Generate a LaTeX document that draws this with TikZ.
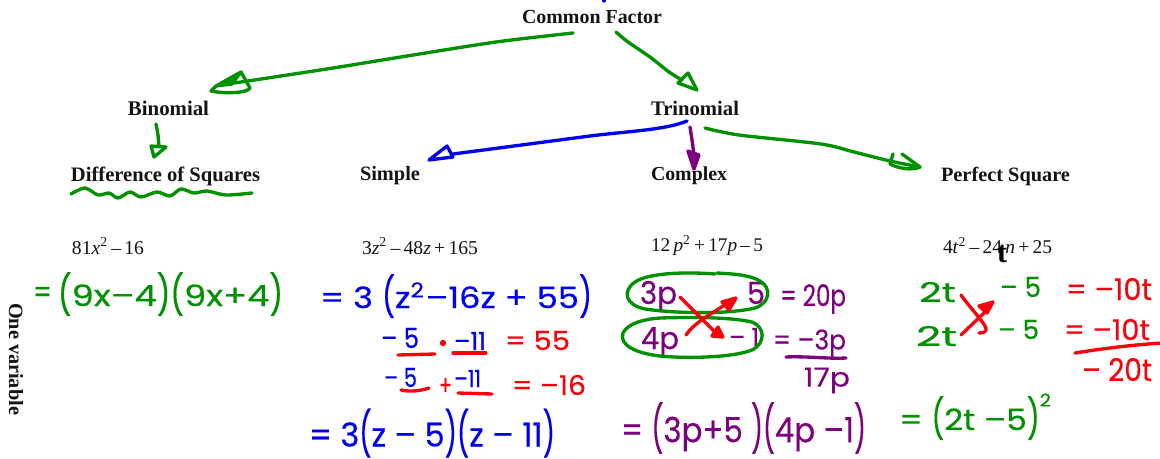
\documentclass[tikz,border=0pt]{standalone}
\usepackage{graphicx}
\usepackage{fontspec}
\setmainfont{Liberation Serif}
\newfontfamily\handfont[FakeBold=0.4]{Poppins}
\definecolor{ing}{RGB}{0,145,0}
\definecolor{inb}{RGB}{0,0,240}
\definecolor{inr}{RGB}{250,0,10}
\definecolor{inp}{RGB}{125,0,125}
\newlength\inkW \newlength\inkH
% hand-written ink: name, x0,y0,x1,y1, colour, text
\newcommand\ink[7]{%
  \pgfmathsetlength\inkW{(#4-#2)*0.75pt}\pgfmathsetlength\inkH{(#5-#3)*0.75pt}%
  \pgfmathsetmacro\inkX{(#2+#4)/2}\pgfmathsetmacro\inkY{(#3+#5)/2}%
  \node[fitbox,text=#6] (#1) at (\inkX,\inkY) {\resizebox{\inkW}{\inkH}{\handfont #7}};}
% printed text: name, x0,x1,yc, text
\newcommand\prn[5]{%
  \pgfmathsetlength\inkW{(#3-#2)*0.75pt}\pgfmathsetmacro\inkX{(#2+#3)/2}%
  \node[fitbox,text=black!92] (#1) at (\inkX,#4) {\resizebox{\inkW}{!}{#5}};}
\newcommand\LP{\raisebox{-.087em}{\scalebox{.85}[1.33]{(}}}
\newcommand\RP{\raisebox{-.087em}{\scalebox{.85}[1.33]{)}}}
\tikzset{
  fitbox/.style={inner sep=0pt,outer sep=0pt},
  pen/.style={line width=2.5pt,line cap=round,line join=round},
  gpen/.style={pen,draw=ing},
  bpen/.style={pen,draw=inb},
  rpen/.style={pen,draw=inr},
  ppen/.style={pen,draw=inp},
}
\begin{document}
\begin{tikzpicture}[x=0.75pt,y=-0.75pt]
\useasboundingbox (0,0) rectangle (1160,458);
\clip (0,0) rectangle (1160,458);
% printed headings
\prn{common}{522}{662}{17}{\textbf{Common Factor}}
\prn{binom}{128}{209}{108}{\textbf{Binomial}}
\prn{trinom}{651}{739}{108}{\textbf{Trinomial}}
\prn{dos}{71}{260}{176}{\textbf{Difference of Squares}}
\prn{simple}{360}{420}{176}{\textbf{Simple}}
\prn{complex}{651}{727}{176}{\textbf{Complex}}
\prn{perfect}{941}{1070}{176}{\textbf{Perfect Square}}
% printed expressions
\prn{ea}{72}{144}{246}{81\textit{x}\textsuperscript{2}\,–\,16}
\prn{eb}{362}{478}{246}{3\textit{z}\textsuperscript{2}\,–\,48\textit{z}\,+\,165}
\prn{ec}{651}{763}{246}{12\,\textit{p}\textsuperscript{2}\,+\,17\textit{p}\,–\,5}
\prn{ed}{943}{1052}{246}{4\textit{t}\textsuperscript{2}\,–\,24\,\textit{n}\,+\,25}
\node[fitbox,rotate=-90,text=black!92] (onevar) at (16,359) {\resizebox{84pt}{!}{\textbf{One variable}}};
\node[fitbox,text=black] (tfix) at (1002,254) {\resizebox{7.5pt}{13pt}{\textbf{t}}};
% connectors
\coordinate (cfA) at (573,33); \coordinate (binTip) at (218,85);
\coordinate (cfB) at (616,32); \coordinate (triTip) at (697,90);
\coordinate (binS) at (156,124); \coordinate (dosTip) at (159,147);
\coordinate (triA) at (687,121); \coordinate (simTip) at (429,160);
\coordinate (triB) at (690,127); \coordinate (cplxTip) at (694,169);
\coordinate (triC) at (705,128); \coordinate (perfTip) at (920,167);
\draw[gpen] plot[smooth] coordinates {(cfA) (496,42) (407,56) (333,68) (241,82) (binTip)};
\draw[gpen,fill=ing] (241,72) -- (216,86) -- (232,84) -- cycle;
\draw[gpen] (241,72) -- (250,88) .. controls (248,93) and (225,94) .. (211,91) -- (216,86);
\draw[gpen] plot[smooth] coordinates {(cfB) (628,42) (650,57) (669,72) (682,80)};
\draw[gpen] (688,73) -- (678,83) -- (triTip) -- cycle;
\draw[gpen] plot[smooth] coordinates {(binS) (158,135) (dosTip)};
\draw[gpen] (151,146) -- (154,157) -- (166,147) -- cycle;
\draw[gpen] plot[smooth] coordinates {(71,194) (85,188) (98,195) (109,193) (118,198) (130,192) (141,197) (157,192) (170,196) (181,189) (194,193) (207,191) (226,195) (252,193)};
\draw[bpen] (triA) .. controls (665,130) and (630,131) .. (590,136) -- (453,154);
\draw[bpen] (simTip) -- (447,146) -- (453,157) -- cycle;
\draw[ppen] plot[smooth] coordinates {(triB) (692,140) (694,155)};
\draw[ppen,fill=inp] (688,151) -- (cplxTip) -- (699,155) -- cycle;
\draw[gpen] plot[smooth] coordinates {(triC) (739,135) (821,144) (854,152) (890,161) (perfTip)};
\draw[gpen] (893,154) -- (890,164) .. controls (897,168) and (912,171) .. (perfTip) -- (902,154);
\draw[bpen] (604,-2) -- (604,1);
% green item 1
\ink{ga}{33}{287}{52}{303}{ing}{=}
\ink{gb}{58}{277}{283}{311}{ing}{\LP 9x–4\RP\LP 9x+4\RP}
% blue item 2
\ink{ba}{320}{279}{592}{313}{inb}{= 3 \LP z\textsuperscript{2}–16z + 55\RP}
\ink{bb}{381}{328}{419}{348}{inb}{– 5}
\ink{bc}{454}{332}{486}{350}{inb}{–11}
\ink{rb}{505}{331}{570}{350}{inr}{= 55}
\ink{bd}{384}{368}{417}{387}{inb}{– 5}
\ink{be}{454}{370}{481}{387}{inb}{–11}
\ink{rc}{439}{378}{452}{395}{inr}{+}
\ink{rd}{512}{375}{586}{395}{inr}{= –16}
\ink{bf}{309}{414}{555}{452}{inb}{= 3\LP z – 5\RP\LP z – 11\RP}
\coordinate (ua) at (398,355); \coordinate (ub) at (435,354);
\draw[rpen] (ua) -- (ub);
\coordinate (uc) at (453,353); \coordinate (ud) at (486,353);
\draw[rpen] (uc) -- (ud);
\coordinate (ue) at (401,390); \coordinate (uf) at (429,388);
\draw[rpen] (ue) .. controls (410,392) and (420,391) .. (uf);
\coordinate (ug) at (458,393); \coordinate (uh) at (492,394);
\draw[rpen] (ug) -- (uh);
\fill[inr] (443,343) circle (3.2);
% purple item 3
\ink{pa}{640}{285}{677}{308}{inp}{3p}
\ink{pb}{747}{282}{765}{304}{inp}{5}
\ink{pc}{780}{288}{846}{310}{inp}{= 20p}
\ink{pd}{641}{331}{679}{353}{inp}{4p}
\ink{pe}{729}{328}{759}{346}{inp}{– 1}
\ink{pf}{773}{333}{846}{353}{inp}{= –3p}
\ink{pg}{804}{371}{850}{390}{inp}{17p}
\ink{ph}{621}{408}{866}{448}{inp}{= \LP 3p+5 \RP\LP 4p –1\RP}
\coordinate (ra) at (786,357); \coordinate (rb) at (846,358);
\draw[ppen] (ra) .. controls (805,356) and (830,359) .. (rb);
\draw[gpen] (715,274) .. controls (690,272) and (650,272) .. (635,282) .. controls (622,291) and (625,305) .. (645,309) .. controls (680,314) and (730,314) .. (755,308) .. controls (770,303) and (772,288) .. (760,281) .. controls (750,275) and (735,274) .. (717,273);
\draw[gpen] (660,318) .. controls (645,319) and (628,323) .. (623,333) .. controls (619,345) and (635,353) .. (660,356) .. controls (690,359) and (735,357) .. (752,350) .. controls (766,343) and (765,327) .. (752,322) .. controls (730,317) and (690,317) .. (660,318);
\coordinate (xa) at (680,297); \coordinate (xb) at (723,337);
\coordinate (xc) at (686,335); \coordinate (xd) at (736,298);
\draw[rpen] (xa) -- (715,332);
\draw[rpen,fill=inr] (xb) -- (712,336) -- (718,327) -- cycle;
\draw[rpen] (xc) .. controls (695,322) and (710,315) .. (726,304);
\draw[rpen,fill=inr] (xd) -- (722,302) -- (729,310) -- cycle;
% green item 4
\ink{qa}{919}{282}{956}{302}{ing}{2t}
\ink{qb}{1000}{277}{1041}{297}{ing}{– 5}
\ink{qc}{916}{326}{957}{346}{ing}{2t}
\ink{qd}{998}{320}{1039}{339}{ing}{– 5}
\ink{qe}{899}{401}{1051}{435}{ing}{= \LP 2t –5\RP\smash{\raisebox{.8em}{\scalebox{.6}{2}}}}
\ink{rf}{1066}{278}{1152}{300}{inr}{= –10t}
\ink{rh}{1064}{319}{1150}{340}{inr}{= –10t}
\ink{rg}{1082}{358}{1152}{381}{inr}{– 20t}
\coordinate (sa) at (1075,353); \coordinate (sb) at (1162,343);
\draw[rpen] (sa) .. controls (1100,349) and (1130,345) .. (sb);
\coordinate (ya) at (961,295); \coordinate (yb) at (979,333);
\coordinate (yc) at (961,335); \coordinate (yd) at (993,302);
\draw[rpen] (ya) .. controls (970,308) and (988,326) .. (986,330) .. controls (985,333) and (981,333) .. (yb);
\draw[rpen] (yc) -- (985,312);
\draw[rpen,fill=inr] (yd) -- (979,306) -- (987,313) -- cycle;
\end{tikzpicture}
\end{document}
